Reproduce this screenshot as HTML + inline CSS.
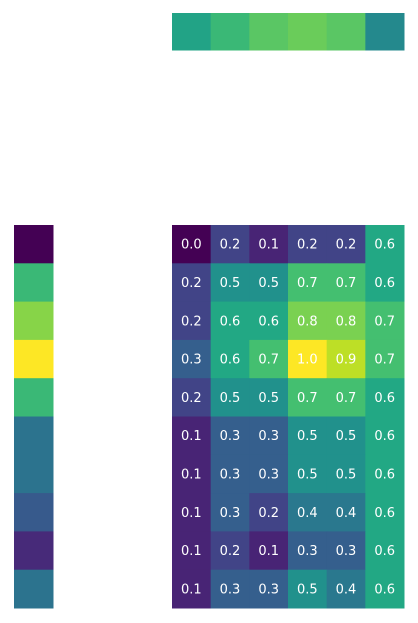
<!DOCTYPE html>
<html><head><meta charset="utf-8"><style>
html,body{margin:0;padding:0;background:#fff;width:418px;height:623px;overflow:hidden}
svg text{font-family:"DejaVu Sans","Liberation Sans",sans-serif;font-size:13px;fill:#fff}
</style></head><body>
<svg id="chart" width="418" height="623" xmlns="http://www.w3.org/2000/svg">
<g id="topg"></g>
<g id="leftg"></g>
<g id="heatg"></g>
</svg>
<script>
const heatValues = [
 [0.0,0.2,0.1,0.2,0.2,0.6],
 [0.2,0.5,0.5,0.7,0.7,0.6],
 [0.2,0.6,0.6,0.8,0.8,0.7],
 [0.3,0.6,0.7,1.0,0.9,0.7],
 [0.2,0.5,0.5,0.7,0.7,0.6],
 [0.1,0.3,0.3,0.5,0.5,0.6],
 [0.1,0.3,0.3,0.5,0.5,0.6],
 [0.1,0.3,0.2,0.4,0.4,0.6],
 [0.1,0.2,0.1,0.3,0.3,0.6],
 [0.1,0.3,0.3,0.5,0.4,0.6]
];
const colColorValues = [0.58,0.67,0.74,0.77,0.74,0.47];
const rowColorValues = [0.0,0.67,0.82,1.0,0.67,0.38,0.38,0.28,0.12,0.38];

const stops=["#440154","#482475","#414487","#355f8d","#2a788e","#21918c","#22a884","#44bf70","#7ad151","#bddf26","#fde725"];
function hex(h){return [1,3,5].map(i=>parseInt(h.substr(i,2),16));}
function viridis(t){t=Math.max(0,Math.min(1,t));const p=t*10,i=Math.min(9,Math.floor(p)),f=p-i;
 const a=hex(stops[i]),b=hex(stops[i+1]);return "rgb("+a.map((v,k)=>Math.round(v+(b[k]-v)*f)).join(",")+")";}
const NS="http://www.w3.org/2000/svg";
const x0=172,cw=(404-172)/6,y0=225,rh=(608-225)/10;
const xs=c=>x0+c*cw, ys=r=>y0+r*rh;
function rect(g,x,y,w,h,fill){const r=document.createElementNS(NS,"rect");
 r.setAttribute("x",x);r.setAttribute("y",y);r.setAttribute("width",w+0.5);r.setAttribute("height",h+0.5);r.setAttribute("fill",fill);g.appendChild(r);return r;}
const heatG=document.getElementById("heatg"),topG=document.getElementById("topg"),leftG=document.getElementById("leftg");
heatValues.forEach((row,r)=>row.forEach((v,c)=>{
 const el=rect(heatG,xs(c),ys(r),cw,rh,viridis(v));
 
 
 const t=document.createElementNS(NS,"text");
 t.setAttribute("x",xs(c)+cw/2);t.setAttribute("y",ys(r)+rh/2+4.5);t.setAttribute("text-anchor","middle");
 t.textContent=v.toFixed(1);
 
 
 heatG.appendChild(t);
}));
colColorValues.forEach((v,c)=>{
 const el=rect(topG,xs(c),13,cw,37,viridis(v));
 
 
});
rowColorValues.forEach((v,r)=>{
 const el=rect(leftG,14,ys(r),39,rh,viridis(v));
 
 
});
</script>
</body></html>
